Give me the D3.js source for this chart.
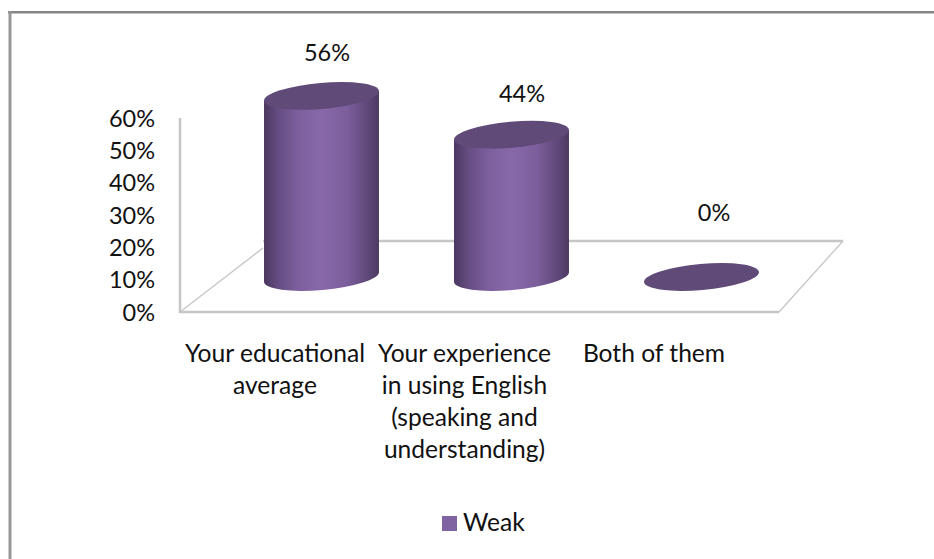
<!DOCTYPE html>
<html>
<head>
<meta charset="utf-8">
<script src="https://cdn.jsdelivr.net/npm/d3@7/dist/d3.min.js"></script>
<style>
html,body{margin:0;padding:0;background:#fff}
svg{display:block}
text{font-family:Lato,"Open Sans",sans-serif;fill:#111}
</style>
</head>
<body>
<svg id="chart" width="934" height="559"></svg>
<script>
const categories = ["Your educational average", "Your experience in using English (speaking and understanding)", "Both of them"];
const categoryLines = [
  ["Your educational", "average"],
  ["Your experience", "in using English", "(speaking and", "understanding)"],
  ["Both of them"]
];
const seriesName = "Weak";
const weakValues = [56, 44, 0];
const tickValues = [0, 10, 20, 30, 40, 50, 60];

const FONT = 24.6, NUM_FONT = 23.5;
const svg = d3.select("#chart");
const y = d3.scaleLinear().domain([0, 60]).range([312, 118]);
const x = d3.scalePoint().domain(categories).range([321.5, 701.5]);
const depth = 35, rx = 57.7, ry = 13, tiltDeg = -5;
const t = tiltDeg * Math.PI / 180;
const ex = rx * Math.cos(t), ey = rx * Math.sin(t);

const defs = svg.append("defs");
const grad = defs.append("linearGradient").attr("id", "cyl").attr("x1", 0).attr("x2", 1).attr("y1", 0).attr("y2", 0);
[[0, "#4a3860"], [0.12, "#644c80"], [0.3, "#7d5f9e"], [0.5, "#8868a9"], [0.72, "#7c5e9c"], [0.9, "#5f4879"], [1, "#4c3a62"]]
  .forEach(d => grad.append("stop").attr("offset", d[0]).attr("stop-color", d[1]));

// frame
svg.append("rect").attr("x", 8).attr("y", 11).attr("width", 926).attr("height", 2.5).attr("fill", "#868686");
svg.append("rect").attr("x", 8.5).attr("y", 11).attr("width", 3).attr("height", 548).attr("fill", "#969696");

// wall and floor
const gridC = "#c6c6c6";
const x0 = 180, fr = 779, bl = 263, br = 843, yb = y(0) - 71;
const line = (x1, y1, x2, y2, w) => svg.append("line").attr("x1", x1).attr("y1", y1).attr("x2", x2).attr("y2", y2)
  .attr("stroke", gridC).attr("stroke-width", w);
line(x0, y(60), x0, y(0) + 1, 2.5);
line(x0, y(0), fr, y(0), 2.5);
line(bl, yb, br, yb, 2.5);
line(fr, y(0), br, yb, 1.3);
line(x0, y(0), bl, y(0) - 64, 1.3);

// axis
const axis = d3.axisLeft(y).tickValues(tickValues).tickFormat(d => d + "%").tickSize(0).tickPadding(0);
const gAxis = svg.append("g").attr("transform", "translate(155,0)").call(axis);
gAxis.select(".domain").remove();
gAxis.selectAll("text").attr("font-size", NUM_FONT).attr("dy", "0.35em").style("font-family", "Lato").style("fill", "#111");

// cylinders
const bars = svg.append("g").selectAll("g").data(categories.map((c, i) => ({ c, v: weakValues[i] }))).join("g");
bars.filter(d => d.v > 0).append("path")
  .attr("fill", "url(#cyl)")
  .attr("d", d => {
    const cx = x(d.c), top = y(d.v) - depth, bot = y(0) - depth;
    return `M${cx - ex},${top - ey}L${cx - ex},${bot - ey}A${rx},${ry} ${tiltDeg} 0 0 ${cx + ex},${bot + ey}L${cx + ex},${top + ey}Z`;
  });
bars.append("ellipse")
  .attr("rx", rx).attr("ry", ry)
  .attr("fill", "#604a78")
  .attr("transform", d => `translate(${x(d.c)},${y(d.v) - depth}) rotate(${tiltDeg})`);

// value labels
const labelDx = [5.5, 10.5, 12.5], labelDy = [-78.5, -76, -99];
svg.append("g").selectAll("text").data(weakValues).join("text")
  .attr("x", (d, i) => x(categories[i]) + labelDx[i])
  .attr("y", (d, i) => y(d) + labelDy[i])
  .attr("dy", "0.35em").attr("text-anchor", "middle").attr("font-size", NUM_FONT)
  .text(d => d + "%");

// category labels
const labelCenters = [275, 464.5, 654];
const catG = svg.append("g").selectAll("text").data(categoryLines).join("text")
  .attr("text-anchor", "middle").attr("font-size", FONT);
catG.selectAll("tspan").data((d, i) => d.map(s => ({ s, i }))).join("tspan")
  .attr("x", d => labelCenters[d.i])
  .attr("y", (d, j) => 362 + j * 32)
  .text(d => d.s);

// legend
svg.append("rect").attr("x", 442).attr("y", 516).attr("width", 15).attr("height", 15).attr("fill", "#8064a2");
svg.append("text").attr("x", 463).attr("y", 531).attr("font-size", FONT).text(seriesName);
</script>
</body>
</html>
